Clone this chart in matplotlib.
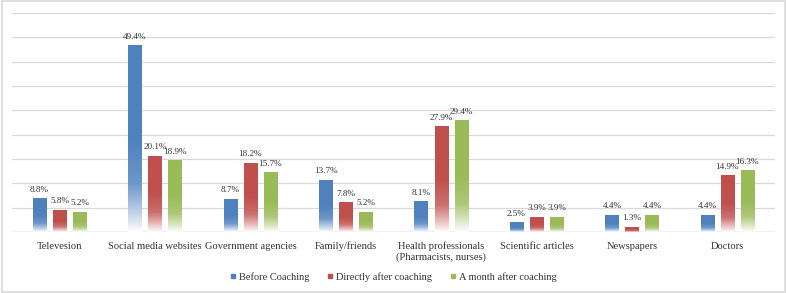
import numpy as np
import matplotlib.pyplot as plt
from matplotlib.colors import LinearSegmentedColormap, to_rgb
from matplotlib.lines import Line2D
from matplotlib.patches import Rectangle

# Данные
categories = ['Televesion', 'Social media websites', 'Government agencies', 'Family/friends',
              'Health professionals\n(Pharmacists, nurses)', 'Scientific articles', 'Newspapers', 'Doctors']
series_names = ['Before Coaching', 'Directly after coaching', 'A month after coaching']
before = [8.8, 49.4, 8.7, 13.7, 8.1, 2.5, 4.4, 4.4]
directly = [5.8, 20.1, 18.2, 7.8, 27.9, 3.9, 1.3, 14.9]
month = [5.2, 18.9, 15.7, 5.2, 29.4, 3.9, 4.4, 16.3]
colors = ['#4F81BD', '#C0504D', '#9BBB59']

plt.rcParams['font.family'] = ['Liberation Serif', 'DejaVu Serif']

fig = plt.figure(figsize=(7.87, 2.93), dpi=100)
ax = fig.add_axes([12 / 787, 1 - 232 / 293, 763 / 787, 219 / 293])

ymax = 58
x = np.arange(len(categories))
width = 0.14
offsets = [-0.21, 0, 0.21]

# градиент: снизу белый, сверху насыщенный цвет
t = np.linspace(0, 1, 200).reshape(-1, 1)
grad = np.clip(t / 0.5, 0, 1) ** 0.9

for vals, col, off in zip([before, directly, month], colors, offsets):
    c = np.array(to_rgb(col))
    light = c + (1 - c) * 0.18
    cmap = LinearSegmentedColormap.from_list('g', [(0, 'white'), (0.55, light), (1, c)])
    for xi, v in zip(x, vals):
        ax.imshow(grad, cmap=cmap, vmin=0, vmax=1, origin='lower', aspect='auto',
                  extent=[xi + off - width / 2, xi + off + width / 2, 0, v], zorder=3,
                  interpolation='bilinear')
        ax.text(xi + off, v + 1.3, f'{v}%', ha='center', va='bottom', fontsize=6.6,
                color='#333333', zorder=4)

ax.set_xlim(-0.5, len(categories) - 0.5)
ax.set_ylim(0, ymax)
ax.set_yticks(np.linspace(0, ymax, 10))
ax.yaxis.grid(True, color='#d9d9d9', linewidth=0.9)
ax.set_axisbelow(True)
ax.tick_params(left=False, labelleft=False, bottom=False)
for s in ax.spines.values():
    s.set_visible(False)
ax.axhline(0, color='#d0d0d0', linewidth=1, zorder=2)
ax.set_xticks(x)
ax.set_xticklabels(categories, fontsize=7.6, color='#333333', va='top', linespacing=1.1)
ax.tick_params(axis='x', pad=3.5)

handles = [Line2D([], [], marker='s', linestyle='none', markersize=3.5, color=c) for c in colors]
fig.legend(handles, series_names, loc='center', bbox_to_anchor=(0.5, 1 - 277 / 293), ncol=3,
           frameon=False, fontsize=7.5, handlelength=0.5, handletextpad=0.35,
           columnspacing=1.7, labelcolor='#333333')

fig.add_artist(Rectangle((0.002, 0.005), 0.995, 0.99, transform=fig.transFigure,
                         fill=False, edgecolor='#d9d9d9', linewidth=1.2))

fig.savefig('out.png', dpi=100)
